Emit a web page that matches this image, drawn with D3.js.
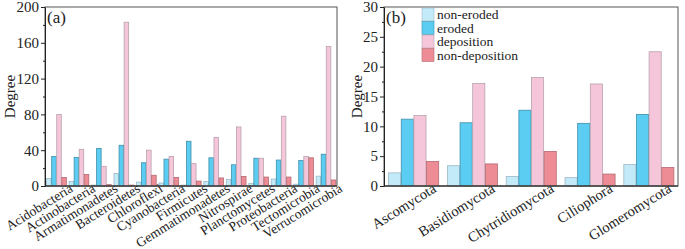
<!DOCTYPE html>
<html>
<head>
<meta charset="utf-8">
<script src="https://cdn.jsdelivr.net/npm/d3@7"></script>
<style>
  body { margin: 0; background: #fff; }
  svg { display: block; font-family: "Liberation Serif", "Times New Roman", serif; }
  .axis path, .axis line { stroke: #222; }
  .axis text { font-size: 15px; fill: #222; font-family: "Liberation Serif", serif; }
</style>
</head>
<body>
<script>
// series order inside every group
var series = ["non-eroded", "eroded", "deposition", "non-deposition"];
var fills   = ["#c3eaf9", "#5ccdf2", "#f5c6da", "#ee8c96"];
var strokes = ["#9fb8c4", "#3f8fab", "#b7a3ad", "#b36a72"];

// panel (a) bacteria
var bacteria = ["Acidobacteria", "Actinobacteria", "Armatimonadetes", "Bacteroidetes",
  "Chloroflexi", "Cyanobacteria", "Firmicutes", "Gemmatimonadetes", "Nitrospirae",
  "Planctomycetes", "Proteobacteria", "Tectomicrobia", "Verrucomicrobia"];
var bacNonEroded = [8.5, 5, 1, 14, 4.4, 3.3, 1, 5, 7.4, 3, 7.8, 2, 11];
var bacEroded    = [33, 32, 42, 45.5, 26, 30, 50, 31.5, 23.7, 31, 29, 28.5, 35.5];
var bacDeposit   = [80, 41, 22, 183, 40, 33, 25, 54.4, 66, 31, 78, 33, 156];
var bacNonDep    = [9.6, 13, 1.5, 1, 12, 9.6, 5.5, 9, 10.7, 10, 10, 31.5, 6.7];
var yTicksA = [0, 40, 80, 120, 160, 200];

// panel (b) eukaryotes
var fungi = ["Ascomycota", "Basidiomycota", "Chytridiomycota", "Ciliophora", "Glomeromycota"];
var funNonEroded = [2.2, 3.4, 1.6, 1.4, 3.6];
var funEroded    = [11.2, 10.6, 12.7, 10.5, 12.0];
var funDeposit   = [11.8, 17.2, 18.2, 17.1, 22.5];
var funNonDep    = [4.1, 3.7, 5.8, 2.0, 3.1];
var yTicksB = [0, 5, 10, 15, 20, 25, 30];

var W = 685, H = 249;
var svg = d3.select("body").append("svg").attr("width", W).attr("height", H);

function panel(opt) {
  var x0 = d3.scaleBand().domain(opt.cats).range([opt.left, opt.right])
      .paddingInner(opt.padIn).paddingOuter(opt.padOut);
  var x1 = d3.scaleBand().domain(series).range([0, x0.bandwidth()]);
  var y = d3.scaleLinear().domain([0, opt.ymax]).range([opt.bottom, opt.top]);

  var rows = opt.cats.map(function(c, i) {
    return opt.vals.map(function(v) { return v[i]; });
  });

  var g = svg.append("g");
  rows.forEach(function(r, i) {
    r.forEach(function(v, j) {
      g.append("rect")
        .attr("x", x0(opt.cats[i]) + x1(series[j]) + 0.5)
        .attr("y", y(v))
        .attr("width", x1.bandwidth() - 0.5)
        .attr("height", opt.bottom - y(v))
        .attr("fill", fills[j])
        .attr("stroke", strokes[j])
        .attr("stroke-width", 0.8);
    });
  });

  // frame
  svg.append("rect")
    .attr("x", opt.left).attr("y", opt.top)
    .attr("width", opt.right - opt.left).attr("height", opt.bottom - opt.top)
    .attr("fill", "none").attr("stroke", "#555").attr("stroke-width", 1);

  // bottom line
  svg.append("line")
    .attr("x1", opt.left).attr("x2", opt.right)
    .attr("y1", opt.bottom).attr("y2", opt.bottom)
    .attr("stroke", "#444").attr("stroke-width", 1.5);

  // minor ticks
  svg.append("g").attr("class", "axis")
    .attr("transform", "translate(" + opt.left + ",0)")
    .call(d3.axisLeft(y).tickValues(opt.minor).tickSize(2).tickFormat(""))
    .select(".domain").remove();

  // y axis
  svg.append("g").attr("class", "axis")
    .attr("transform", "translate(" + opt.left + ",0)")
    .call(d3.axisLeft(y).tickValues(opt.ticks).tickSize(4).tickPadding(2).tickSizeOuter(0));

  // category labels
  opt.cats.forEach(function(c) {
    var cx = x0(c) + x0.bandwidth() / 2;
    svg.append("text")
      .attr("transform", "translate(" + (cx + opt.lblDx) + "," + (opt.bottom - 1) + ") rotate(-32)")
      .attr("text-anchor", "end")
      .attr("dy", "0.5em")
      .style("font-size", opt.lblSize + "px")
      .style("fill", "#222")
      .text(c);
  });

  // y label
  svg.append("text")
    .attr("transform", "translate(" + opt.ylabX + "," + ((opt.top + opt.bottom) / 2) + ") rotate(-90)")
    .attr("text-anchor", "middle")
    .attr("dy", "0.35em")
    .style("font-size", "15px")
    .style("fill", "#222")
    .text("Degree");

  // panel tag
  svg.append("text")
    .attr("x", opt.left + 2).attr("y", opt.top + 16)
    .style("font-size", "17px")
    .style("fill", "#222")
    .text(opt.tag);
}

panel({
  cats: bacteria, vals: [bacNonEroded, bacEroded, bacDeposit, bacNonDep],
  left: 45, right: 337, top: 7, bottom: 186, ymax: 200,
  padIn: 0.1, padOut: 0.05,
  ticks: yTicksA, minor: d3.range(20, 200, 40),
  lblDx: 14, lblSize: 13.5, ylabX: 10, tag: "(a)"
});

panel({
  cats: fungi, vals: [funNonEroded, funEroded, funDeposit, funNonDep],
  left: 384, right: 678, top: 7, bottom: 186, ymax: 30,
  padIn: 0.14, padOut: 0.07,
  ticks: yTicksB, minor: d3.range(2.5, 30, 5),
  lblDx: 20, lblSize: 14.5, ylabX: 357, tag: "(b)"
});

// legend (panel b)
var leg = svg.append("g").attr("transform", "translate(422,8)");
series.forEach(function(s, i) {
  leg.append("rect")
    .attr("x", 0).attr("y", i * 13.5)
    .attr("width", 12).attr("height", 13)
    .attr("fill", fills[i]).attr("stroke", strokes[i]).attr("stroke-width", 0.6);
  leg.append("text")
    .attr("x", 15).attr("y", i * 13.5 + 6.5)
    .attr("dy", "0.35em")
    .style("font-size", "13.5px")
    .style("fill", "#222")
    .text(s);
});
</script>
</body>
</html>
